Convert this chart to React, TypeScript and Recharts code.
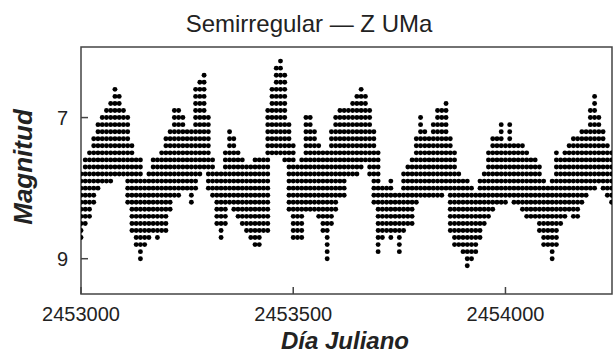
import React from 'react';
import { ScatterChart, Scatter, XAxis, YAxis, ReferenceArea } from 'recharts';

const JD0 = 2453000;

// one column every 10 days, brightest and faintest estimate seen in it
const dayOffsets = [
  0, 10, 20, 30, 40, 50, 60, 70, 80, 90,
  100, 110, 120, 130, 140, 150, 160, 170, 180, 190,
  200, 210, 220, 230, 240, 250, 260, 270, 280, 290,
  300, 310, 320, 330, 340, 350, 360, 370, 380, 390,
  400, 410, 420, 430, 440, 450, 460, 470, 480, 490,
  500, 510, 520, 530, 540, 550, 560, 570, 580, 590,
  600, 610, 620, 630, 640, 650, 660, 670, 680, 690,
  700, 710, 720, 730, 740, 750, 760, 770, 780, 790,
  800, 810, 820, 830, 840, 850, 860, 870, 880, 890,
  900, 910, 920, 930, 940, 950, 960, 970, 980, 990,
  1000, 1010, 1020, 1030, 1040, 1050, 1060, 1070, 1080, 1090,
  1100, 1110, 1120, 1130, 1140, 1150, 1160, 1170, 1180, 1190,
  1200, 1210, 1220, 1230, 1240, 1250,
];

const brightMag = [
  7.8, 7.6, 7.5, 7.3, 7.1, 7.0, 6.9, 6.8, 6.6, 6.7,
  6.9, 7.0, 7.4, 7.6, 7.6, 7.9, 7.8, 7.6, 7.6, 7.5,
  7.3, 7.2, 6.9, 6.9, 7.0, 7.2, 7.2, 6.6, 6.5, 6.4,
  7.0, 7.6, 7.8, 7.8, 7.5, 7.2, 7.3, 7.5, 7.6, 7.7,
  7.7, 7.6, 7.6, 7.6, 6.9, 6.6, 6.3, 6.2, 6.4, 7.1,
  7.4, 7.7, 7.6, 7.0, 7.0, 7.2, 7.4, 7.5, 7.5, 7.2,
  7.0, 6.9, 6.9, 6.9, 6.8, 6.7, 6.6, 6.7, 6.9, 7.2,
  7.5, 8.0, 8.0, 7.9, 8.1, 8.1, 7.8, 7.7, 7.6, 7.3,
  7.0, 7.2, 7.3, 7.1, 6.9, 6.9, 6.8, 7.3, 7.5, 7.8,
  7.9, 7.9, 8.0, 8.1, 7.9, 7.8, 7.5, 7.3, 7.3, 7.1,
  7.4, 7.1, 7.4, 7.4, 7.4, 7.5, 7.6, 7.6, 7.7, 7.9,
  8.0, 7.9, 7.5, 7.6, 7.5, 7.4, 7.3, 7.3, 7.2, 7.2,
  6.9, 6.7, 7.0, 7.2, 7.4, 7.5,
];

const faintMag = [
  8.7, 8.5, 8.4, 8.2, 8.0, 7.9, 7.9, 7.9, 7.8, 7.8,
  7.8, 8.2, 8.6, 8.8, 9.0, 8.8, 8.7, 8.6, 8.7, 8.6,
  8.6, 8.3, 8.1, 8.1, 8.0, 8.0, 8.2, 8.0, 7.8, 7.7,
  8.0, 8.1, 8.5, 8.7, 8.5, 8.2, 8.3, 8.4, 8.5, 8.6,
  8.7, 8.8, 8.8, 8.6, 8.6, 7.5, 7.5, 7.5, 7.6, 8.3,
  8.7, 8.7, 8.7, 8.3, 8.3, 8.3, 8.4, 8.6, 9.0, 8.5,
  8.3, 8.1, 8.1, 7.8, 7.8, 7.8, 7.7, 7.6, 7.8, 8.2,
  8.9, 8.7, 8.6, 8.7, 8.6, 8.9, 8.6, 8.5, 8.5, 8.2,
  8.1, 8.1, 8.1, 8.1, 8.1, 8.1, 8.0, 8.6, 8.8, 8.8,
  8.9, 9.1, 9.0, 8.9, 8.7, 8.5, 8.4, 8.3, 8.2, 8.2,
  8.2, 8.1, 8.2, 8.2, 8.3, 8.4, 8.4, 8.4, 8.6, 8.8,
  8.8, 9.0, 8.8, 8.5, 8.4, 8.3, 8.4, 8.4, 8.2, 8.1,
  8.0, 8.0, 7.9, 8.0, 8.1, 8.2,
];

const xTicks = [2453000, 2453500, 2454000];
const yTicks = [7, 9];

// visual estimates are reported in 0.1 mag steps
const points: { jd: number; mag: number }[] = [];
dayOffsets.forEach((d, i) => {
  const lo = Math.round(brightMag[i] * 10);
  const hi = Math.round(faintMag[i] * 10);
  for (let k = lo; k <= hi; k++) points.push({ jd: JD0 + d, mag: k / 10 });
});

const FONT = '"Liberation Sans", Arial, Helvetica, sans-serif';

const Dot = (props: any) => <circle cx={props.cx} cy={props.cy} r={2.45} fill="#000" />;

export default function App() {
  return (
    <div style={{ position: 'absolute', left: 0, top: 0, width: 614, height: 353, background: '#fff', fontFamily: FONT }}>
      <ScatterChart width={614} height={353} margin={{ top: 47, right: 2, bottom: 0, left: 0 }}>
        <XAxis
          dataKey="jd" type="number" domain={[2453000, 2454251]} ticks={xTicks} interval={0}
          allowDataOverflow height={59} axisLine={false}
          tickSize={-7} tickMargin={20} tickLine={{ stroke: '#444', strokeWidth: 1.5 }}
          tick={{ fontSize: 20, fill: '#222', fontFamily: FONT }}
        />
        <YAxis
          dataKey="mag" type="number" domain={[6, 9.5]} reversed ticks={yTicks} interval={0}
          allowDataOverflow width={81} axisLine={false}
          tickSize={-7} tickMargin={20} tickLine={{ stroke: '#444', strokeWidth: 1.5 }}
          tick={{ fontSize: 20, fill: '#222', fontFamily: FONT }}
        />
        <ReferenceArea x1={2453000} x2={2454251} y1={6} y2={9.5} fill="none" stroke="#444" strokeWidth={1.5} ifOverflow="visible" />
        <Scatter data={points} shape={Dot} isAnimationActive={false} />
      </ScatterChart>
      <div style={{ position: 'absolute', left: 309, top: 24, transform: 'translate(-50%, -50%)', fontSize: 24, lineHeight: 1, color: '#222', whiteSpace: 'nowrap' }}>
        Semirregular — Z UMa
      </div>
      <div style={{ position: 'absolute', left: 345, top: 341, transform: 'translate(-50%, -50%)', fontSize: 24, fontWeight: 'bold', fontStyle: 'italic', lineHeight: 1, color: '#222', whiteSpace: 'nowrap' }}>
        Día Juliano
      </div>
      <div style={{ position: 'absolute', left: 23, top: 167, transform: 'translate(-50%, -50%) rotate(-90deg)', fontSize: 26, fontWeight: 'bold', fontStyle: 'italic', lineHeight: 1, color: '#222', whiteSpace: 'nowrap' }}>
        Magnitud
      </div>
    </div>
  );
}
